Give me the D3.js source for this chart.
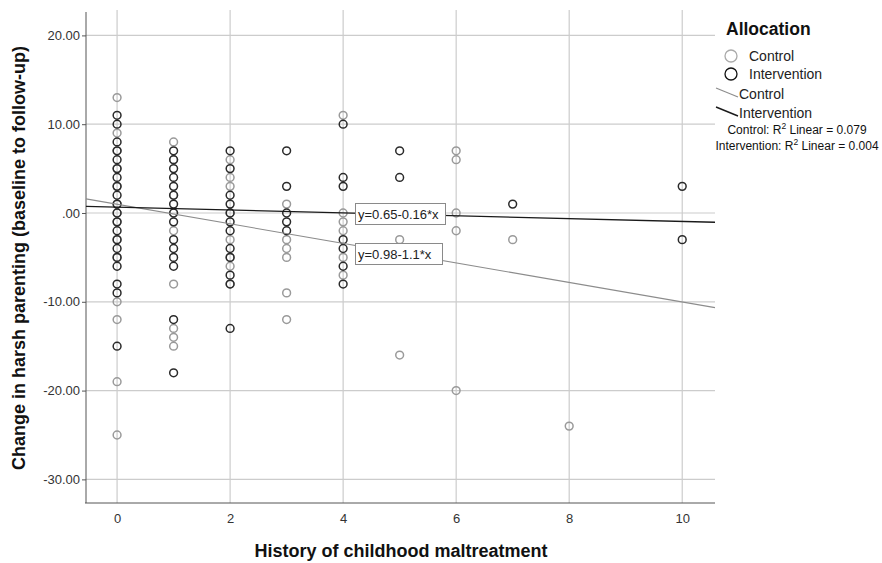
<!DOCTYPE html>
<html><head><meta charset="utf-8">
<script src="https://cdn.jsdelivr.net/npm/d3@7"></script>
<style>body{margin:0;background:#fff}svg{display:block}text{font-family:"Liberation Sans",Arial,sans-serif}</style>
</head><body>
<svg id="c" width="882" height="563"></svg>
<script>
// ---- data ----
const xTicks = [0, 2, 4, 6, 8, 10];
const yTicks = [20, 10, 0, -10, -20, -30];
const yTickLabels = ["20.00", "10.00", ".00", "-10.00", "-20.00", "-30.00"];
const controlPoints = [
  [0,13],[0,9],[0,7],[0,5],[0,3],[0,1],[0,0],[0,-1],[0,-3],[0,-5],[0,-10],[0,-12],[0,-19],[0,-25],
  [1,8],[1,6],[1,2],[1,0],[1,-2],[1,-8],[1,-13],[1,-14],[1,-15],
  [2,6],[2,4],[2,3],[2,0],[2,-3],[2,-5],[2,-6],[2,-8],
  [3,1],[3,-3],[3,-4],[3,-5],[3,-9],[3,-12],
  [4,11],[4,0],[4,-1],[4,-2],[4,-5],[4,-7],
  [5,-3],[5,-16],
  [6,7],[6,6],[6,0],[6,-2],[6,-20],
  [7,-3],
  [8,-24]
];
const interventionPoints = [
  [0,11],[0,10],[0,8],[0,7],[0,6],[0,5],[0,4],[0,3],[0,2],[0,1],[0,0],[0,-1],[0,-2],[0,-3],[0,-4],[0,-5],[0,-6],[0,-8],[0,-9],[0,-15],
  [1,7],[1,6],[1,5],[1,4],[1,3],[1,2],[1,1],[1,0],[1,-1],[1,-3],[1,-4],[1,-5],[1,-6],[1,-12],[1,-18],
  [2,7],[2,5],[2,2],[2,1],[2,0],[2,-1],[2,-2],[2,-4],[2,-5],[2,-7],[2,-8],[2,-13],
  [3,7],[3,3],[3,0],[3,-1],[3,-2],
  [4,10],[4,4],[4,3],[4,-3],[4,-4],[4,-6],[4,-8],
  [5,7],[5,4],
  [7,1],
  [10,3],[10,-3]
];
const groups = ["Control", "Intervention"];
const fitIntercepts = [0.98, 0.65];
const fitSlopes = [-1.1, -0.16];
const fitLabels = ["y=0.98-1.1*x", "y=0.65-0.16*x"];
const r2Values = ["0.079", "0.004"];

// ---- layout ----
const svg = d3.select("#c");
const L = 86, R = 715, T = 10, B = 503;
const x = d3.scaleLinear().domain([-0.55, 10.58]).range([L, R]);
const y = d3.scaleLinear().domain([-32.66, 22.86]).range([B, T]);
const colors = ["#9a9a9a", "#2a2a2a"];
const lineColors = ["#8c8c8c", "#1a1a1a"];
const FF = "Liberation Sans, Arial, sans-serif";

// grid
const g = svg.append("g");
g.selectAll(".vg").data(xTicks).join("line")
  .attr("x1", d => x(d)).attr("x2", d => x(d)).attr("y1", T).attr("y2", B)
  .attr("stroke", "#cccccc").attr("stroke-width", 1.2);
g.selectAll(".hg").data(yTicks).join("line")
  .attr("x1", L).attr("x2", R).attr("y1", d => y(d)).attr("y2", d => y(d))
  .attr("stroke", "#cccccc").attr("stroke-width", 1.2);

// axes
const yAxis = d3.axisLeft(y).tickValues(yTicks).tickFormat((d, i) => yTickLabels[i]).tickSize(4).tickPadding(2);
const ya = svg.append("g").attr("transform", `translate(${L},0)`).call(yAxis);
ya.select(".domain").attr("d", `M0,${T+2}V${B}`).attr("stroke", "#555");
ya.selectAll(".tick line").attr("stroke", "#555");
ya.selectAll(".tick text").attr("font-size", 13).attr("fill", "#333").attr("font-family", FF);

const xAxis = d3.axisBottom(x).tickValues(xTicks).tickSize(0).tickPadding(11);
const xa = svg.append("g").attr("transform", `translate(0,${B})`).call(xAxis);
xa.select(".domain").attr("d", `M${L-1},0H${R}`).attr("stroke", "#555");
xa.selectAll(".tick text").attr("font-size", 13).attr("fill", "#333").attr("font-family", FF);

// titles
svg.append("text").attr("x", 401).attr("y", 557).attr("text-anchor", "middle")
  .attr("font-size", 18).attr("font-weight", "bold").attr("fill", "#111")
  .text("History of childhood maltreatment");
svg.append("text").attr("transform", "translate(25,258) rotate(-90)").attr("text-anchor", "middle")
  .attr("font-size", 18).attr("font-weight", "bold").attr("fill", "#111")
  .text("Change in harsh parenting (baseline to follow-up)");

// points
const pts = svg.append("g");
[controlPoints, interventionPoints].forEach((arr, gi) => {
  pts.append("g").selectAll("circle").data(arr).join("circle")
    .attr("cx", d => x(d[0])).attr("cy", d => y(d[1])).attr("r", 3.9)
    .attr("fill", "none").attr("stroke", colors[gi]).attr("stroke-width", 1.5);
});

// fit lines
const xd = x.domain();
const fits = svg.append("g");
[0, 1].forEach(i => {
  fits.append("line")
    .attr("x1", x(xd[0])).attr("y1", y(fitIntercepts[i] + fitSlopes[i] * xd[0]))
    .attr("x2", x(xd[1])).attr("y2", y(fitIntercepts[i] + fitSlopes[i] * xd[1]))
    .attr("stroke", lineColors[i]).attr("stroke-width", i === 0 ? 1.1 : 1.3);
});

// fit labels
const labPos = [[355, 243, 87], [355, 203, 90]];
[0, 1].forEach(i => {
  const [bx, by, bw] = labPos[i];
  svg.append("rect").attr("x", bx + 0.5).attr("y", by + 0.5).attr("width", bw).attr("height", 21)
    .attr("fill", "#fff").attr("stroke", "#8a8a8a");
  svg.append("text").attr("x", bx + 3).attr("y", by + 15.5).attr("font-size", 13).attr("fill", "#222")
    .text(fitLabels[i]);
});

// legend
const lg = svg.append("g");
lg.append("text").attr("x", 726).attr("y", 35).attr("font-size", 17.5).attr("font-weight", "bold").attr("fill", "#111").text("Allocation");
[0, 1].forEach(i => {
  const cy = 56 + i * 18;
  lg.append("circle").attr("cx", 731).attr("cy", cy).attr("r", 6)
    .attr("fill", "none").attr("stroke", i === 0 ? "#aaaaaa" : "#111").attr("stroke-width", 1.3);
  lg.append("text").attr("x", 749).attr("y", cy + 5).attr("font-size", 14).attr("fill", "#222").text(groups[i]);
});
[0, 1].forEach(i => {
  const cy = 94 + i * 19;
  lg.append("line").attr("x1", 716).attr("y1", cy - 6).attr("x2", 738).attr("y2", cy + 3)
    .attr("stroke", lineColors[i]).attr("stroke-width", i === 0 ? 1.1 : 1.4);
  lg.append("text").attr("x", 739).attr("y", cy + 5).attr("font-size", 14).attr("fill", "#222").text(groups[i]);
});
[0, 1].forEach(i => {
  const t = lg.append("text").attr("x", 797).attr("y", 134 + i * 16).attr("text-anchor", "middle")
    .attr("font-size", 12).attr("fill", "#111");
  t.append("tspan").text(groups[i] + ": R");
  t.append("tspan").attr("font-size", 8.5).attr("dy", -5).text("2");
  t.append("tspan").attr("dy", 5).text(" Linear = " + r2Values[i]);
});
</script>
</body></html>
